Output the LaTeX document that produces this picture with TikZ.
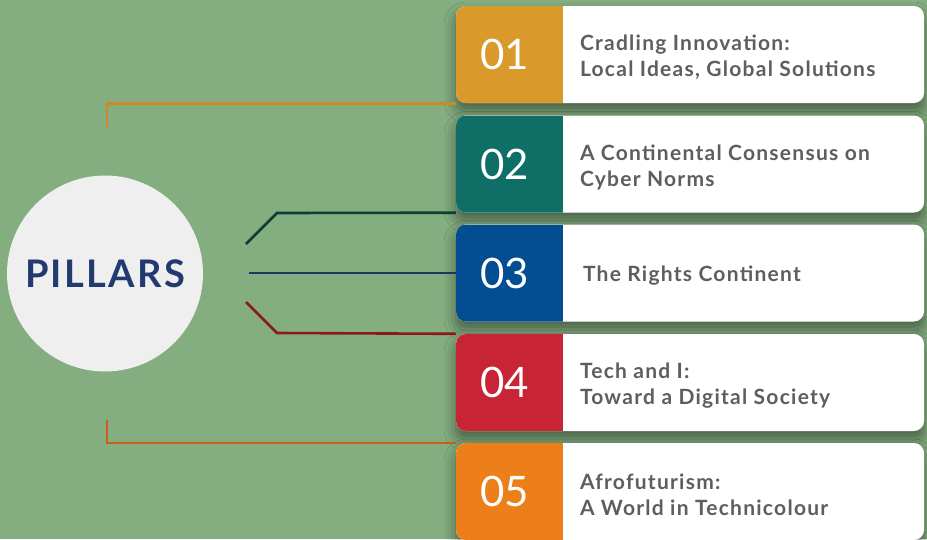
\documentclass[tikz,border=0pt]{standalone}
\usepackage{fontspec}
\setmainfont{Lato}
\newfontfamily\cardfont[LetterSpace=6]{Lato}
\newfontfamily\pillarfont[LetterSpace=6]{Lato}
\usepackage{tikz}
\usetikzlibrary{shadows.blur}

\definecolor{bggreen}{HTML}{84AD80}
\definecolor{circgray}{HTML}{EFEFEF}
\definecolor{navy}{HTML}{233A70}
\definecolor{textgray}{HTML}{5E5E5E}
\definecolor{col1}{HTML}{D99A2B}
\definecolor{col2}{HTML}{0F6E66}
\definecolor{col3}{HTML}{034E92}
\definecolor{col4}{HTML}{C72535}
\definecolor{col5}{HTML}{EC7F1A}
\definecolor{line1}{HTML}{CC8A22}
\definecolor{line2}{HTML}{0D3D34}
\definecolor{line3}{HTML}{1D3560}
\definecolor{line4}{HTML}{8A1A1A}
\definecolor{line5}{HTML}{C8601A}

\tikzset{
	card/.style={fill=white, rounded corners=10pt, minimum width=468pt, minimum height=97pt, inner sep=0pt,
		blur shadow={shadow xshift=0pt, shadow yshift=-8pt, shadow blur radius=12pt, shadow opacity=45},
		path picture={\fill[#1, sharp corners] (path picture bounding box.south west) rectangle ([xshift=107pt]path picture bounding box.north west);}},
	numlabel/.style={text=white, inner sep=0pt, font=\fontsize{42}{42}\selectfont},
	cardtext/.style={text=textgray, anchor=west, align=left, inner sep=0pt, yshift=-3pt, font=\cardfont\bfseries\fontsize{21}{26}\selectfont},
	link/.style={line width=2.6pt},
}

\begin{document}
\begin{tikzpicture}[x=1pt,y=-1pt]
		\path[use as bounding box, fill=bggreen] (0,0) rectangle (927,539);
		
		\node[circle, fill=circgray, minimum size=196pt, inner sep=0pt, text=navy, font=\pillarfont\bfseries\fontsize{38}{38}\selectfont] (pillars) at (105,273.5) {PILLARS};
		
		\node[card=col1] (c1) at (690,54.5) {};
		\node[card=col2] (c2) at (690,164) {};
		\node[card=col3] (c3) at (690,273) {};
		\node[card=col4] (c4) at (690,382.5) {};
		\node[card=col5] (c5) at (690,491.5) {};
		
		\node[numlabel] (n1) at ([xshift=49pt]c1.west) {01};
		\node[numlabel] (n2) at ([xshift=49pt]c2.west) {02};
		\node[numlabel] (n3) at ([xshift=49pt]c3.west) {03};
		\node[numlabel] (n4) at ([xshift=49pt]c4.west) {04};
		\node[numlabel] (n5) at ([xshift=49pt]c5.west) {05};
		
		\node[cardtext] (t1) at ([xshift=124pt]c1.west) {Cradling Innovation:\\Local Ideas, Global Solutions};
		\node[cardtext] (t2) at ([xshift=124pt]c2.west) {A Continental Consensus on\\Cyber Norms};
		\node[cardtext] (t3) at ([xshift=127pt]c3.west) {The Rights Continent};
		\node[cardtext] (t4) at ([xshift=124pt]c4.west) {Tech and I:\\Toward a Digital Society};
		\node[cardtext] (t5) at ([xshift=124pt]c5.west) {Afrofuturism:\\A World in Technicolour};
		
		\coordinate (a1) at (107,127);
		\coordinate (a2) at (246,244);
		\coordinate (a3) at (249,273);
		\coordinate (a4) at (246,302);
		\coordinate (a5) at (107,420);
		
		\draw[link, line1] (a1) |- (c1.south west);
		\draw[link, line2] (a2) -- ++(31,-31) -- (c2.south west);
		\draw[link, line3] (a3) -- (c3.west);
		\draw[link, line4] (a4) -- ++(31,31) -- (c4.north west);
		\draw[link, line5] (a5) |- (c5.north west);
		
		\end{tikzpicture}
\end{document}
